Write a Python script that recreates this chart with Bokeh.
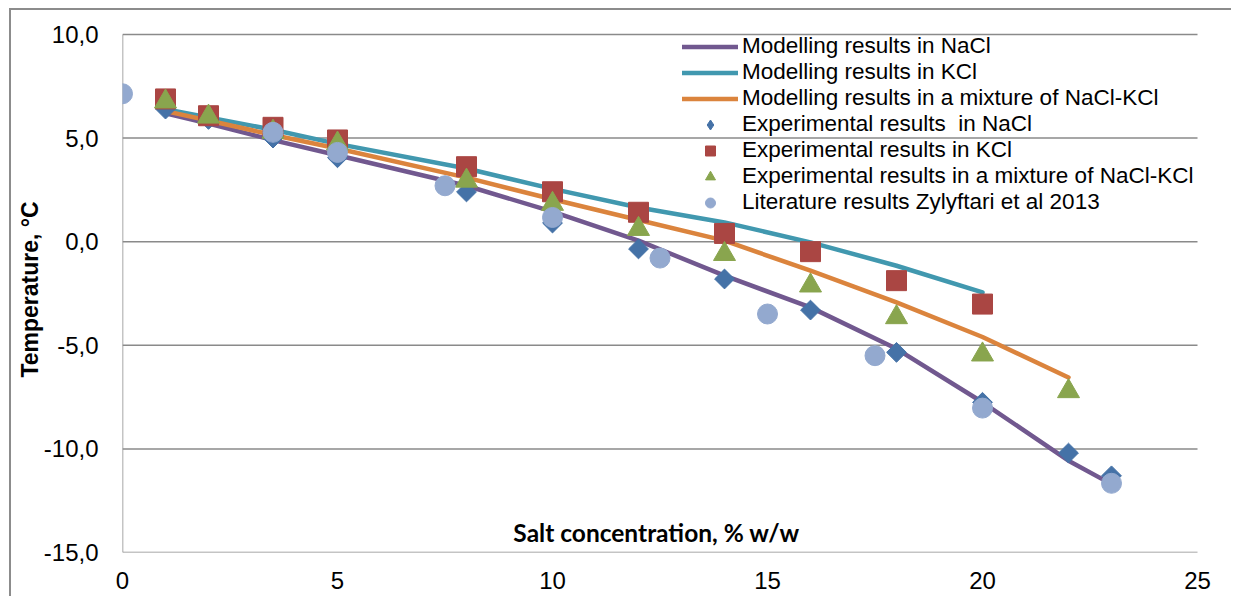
from bokeh.plotting import figure
from bokeh.models import Legend, LegendItem, Label, FixedTicker, Range1d
from bokeh.embed import file_html
from bokeh.resources import INLINE

# ---------------- data ----------------
model_nacl_x = [1, 2, 3.5, 5, 8, 10, 12, 14, 16, 18, 20, 22, 23]
model_nacl_y = [6.2, 5.7, 4.9, 4.17, 2.7, 1.45, 0.05, -1.64, -3.17, -5.17, -7.75, -10.57, -11.7]
model_kcl_x = [1, 2, 3.5, 5, 8, 10, 12, 14, 16, 18, 20]
model_kcl_y = [6.4, 6.0, 5.4, 4.72, 3.53, 2.55, 1.65, 0.93, -0.03, -1.16, -2.45]
model_mix_x = [1, 2, 3.5, 5, 8, 10, 12, 14, 16, 18, 20, 22]
model_mix_y = [6.3, 5.85, 5.15, 4.5, 3.09, 2.05, 1.05, 0.05, -1.4, -2.93, -4.6, -6.55]

exp_nacl_x = [1, 2, 3.5, 5, 8, 10, 12, 14, 16, 18, 20, 22, 23]
exp_nacl_y = [6.4, 5.9, 5.0, 4.05, 2.4, 0.9, -0.35, -1.8, -3.3, -5.34, -7.75, -10.2, -11.3]
exp_kcl_x = [1, 2, 3.5, 5, 8, 10, 12, 14, 16, 18, 20]
exp_kcl_y = [6.89, 6.08, 5.52, 4.91, 3.62, 2.41, 1.42, 0.4, -0.48, -1.88, -3.01]
exp_mix_x = [1, 2, 3.5, 5, 8, 10, 12, 14, 16, 18, 20, 22]
exp_mix_y = [6.76, 6.03, 5.3, 4.73, 2.94, 1.82, 0.61, -0.6, -2.12, -3.65, -5.45, -7.22]
lit_x = [0, 3.5, 5, 7.5, 10, 12.5, 15, 17.5, 20, 23]
lit_y = [7.14, 5.28, 4.31, 2.7, 1.17, -0.79, -3.49, -5.5, -8.03, -11.66]

x_ticks = [0, 5, 10, 15, 20, 25]
y_ticks = [-15, -10, -5, 0, 5, 10]
y_tick_labels = ["-15,0", "-10,0", "-5,0", "0,0", "5,0", "10,0"]

series_names = [
    "Modelling results in NaCl",
    "Modelling results in KCl",
    "Modelling results in a mixture of NaCl-KCl",
    "Experimental results  in NaCl",
    "Experimental results in KCl",
    "Experimental results in a mixture of NaCl-KCl",
    "Literature results Zylyftari et al 2013",
]
x_title = "Salt concentration, % w/w"
y_title = "Temperature, °C"

# ---------------- styles ----------------
GRID = "#8a8a8a"
FONT = "Liberation Sans"
C_PURPLE = "#71588F"
C_TEAL = "#4198AF"
C_ORANGE = "#DB843D"
C_BLUE = "#4572A7"
C_RED = "#AA4643"
C_GREEN = "#89A54E"
C_LBLUE = "#93A9CF"

X0, X1 = x_ticks[0], x_ticks[-1]
Y0, Y1 = y_ticks[0], y_ticks[-1]

# the frame is a little larger than the axes box so the legend is not clipped
p = figure(width=1222, height=588, output_backend="svg", toolbar_location=None,
           x_range=Range1d(X0, X1 + 0.744), y_range=Range1d(Y0, Y1 + 0.386),
           min_border_left=111, min_border_right=4, min_border_top=16, min_border_bottom=46)
p.styles = {"margin-left": "9px", "margin-top": "8px",
            "border-left": "2px solid #8c8c8c", "border-top": "2px solid #8c8c8c"}
p.outline_line_color = None
p.background_fill_color = "white"
p.border_fill_color = "white"

# axes
p.xaxis.ticker = FixedTicker(ticks=x_ticks)
p.yaxis.ticker = FixedTicker(ticks=y_ticks)
p.yaxis.major_label_overrides = dict(zip(y_ticks, y_tick_labels))
for ax in (p.xaxis, p.yaxis):
    ax.axis_line_color = None
    ax.major_tick_line_color = None
    ax.minor_tick_line_color = None
    ax.major_tick_out = 0
    ax.major_tick_in = 0
    ax.major_label_text_font = FONT
    ax.major_label_text_font_size = "24px"
    ax.major_label_text_color = "black"
p.xaxis.major_label_standoff = 19
p.yaxis.major_label_standoff = 24
p.yaxis.axis_label = y_title
p.yaxis.axis_label_text_font = FONT
p.yaxis.axis_label_text_font_style = "bold"
p.yaxis.axis_label_text_font_size = "23px"
p.yaxis.axis_label_text_color = "black"
p.yaxis.axis_label_standoff = -2

p.xgrid.visible = False
p.ygrid.visible = False

# gridlines and axis line of the plot box
p.segment(x0=[X0] * len(y_ticks), x1=[X1] * len(y_ticks), y0=y_ticks, y1=y_ticks,
          line_color=GRID, line_width=1.5)
p.segment(x0=[X0], x1=[X0], y0=[Y0], y1=[Y1], line_color=GRID, line_width=1.5)

# model lines
r1 = p.line(model_nacl_x, model_nacl_y, line_color=C_PURPLE, line_width=4.5, line_join="round", line_cap="round")
r2 = p.line(model_kcl_x, model_kcl_y, line_color=C_TEAL, line_width=4.5, line_join="round", line_cap="round")
r3 = p.line(model_mix_x, model_mix_y, line_color=C_ORANGE, line_width=4.5, line_join="round", line_cap="round")

# experimental markers
r4 = p.scatter(exp_nacl_x, exp_nacl_y, marker="square", size=14, angle=0.7854,
               fill_color=C_BLUE, line_color=C_BLUE)
r5 = p.scatter(exp_kcl_x, exp_kcl_y, marker="square", size=20, fill_color=C_RED, line_color=C_RED)
r6 = p.scatter(exp_mix_x, exp_mix_y, marker="triangle", size=22, fill_color=C_GREEN, line_color=C_GREEN)
r7 = p.scatter(lit_x, lit_y, marker="circle", size=20, fill_color=C_LBLUE, line_color=C_LBLUE)
# hidden stand-in for the diamonds, used only as the legend swatch
r4_leg = p.scatter(exp_nacl_x, exp_nacl_y, marker="diamond", size=14,
                   fill_color=C_BLUE, line_color=C_BLUE, visible=False)

renderers = [r1, r2, r3, r4_leg, r5, r6, r7]
legend = Legend(items=[LegendItem(label=n, renderers=[r]) for n, r in zip(series_names, renderers)],
                location=(560, 337), glyph_width=56, glyph_height=25, label_height=25,
                spacing=0, padding=0, margin=0, label_standoff=4,
                border_line_color=None, background_fill_alpha=0,
                inactive_fill_alpha=0,
                label_text_font=FONT, label_text_font_size="22.5px", label_text_color="black")
p.add_layout(legend)

p.add_layout(Label(x=12.42, y=-14.04, text=x_title, text_align="center", text_baseline="middle",
                   text_font="Lato", text_font_style="bold", text_font_size="24.5px",
                   text_color="black"))

open("out.html", "w").write(file_html(p, INLINE))
